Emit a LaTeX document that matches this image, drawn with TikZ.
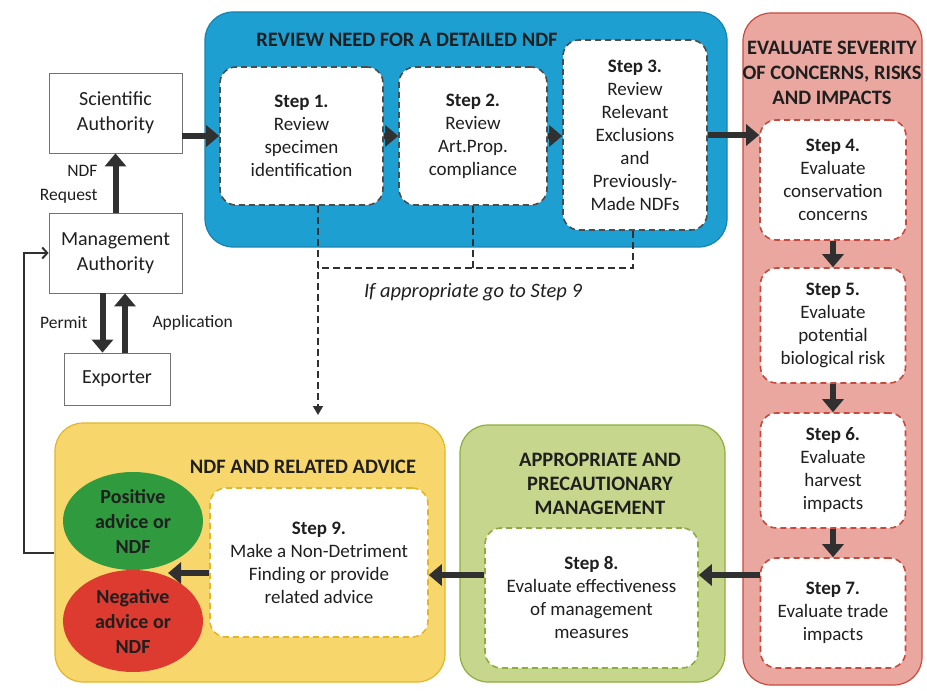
\documentclass[tikz,border=0pt]{standalone}
\usepackage{fontspec}
\setmainfont{Carlito}
\usetikzlibrary{arrows.meta,positioning,shapes.geometric}

\definecolor{reviewblue}{HTML}{1E9FD2}
\definecolor{reviewedge}{HTML}{1682B0}
\definecolor{riskfill}{HTML}{E9A7A0}
\definecolor{riskedge}{HTML}{C9493D}
\definecolor{mgmtfill}{HTML}{C6D68C}
\definecolor{mgmtedge}{HTML}{8CAE3C}
\definecolor{advfill}{HTML}{F7D76C}
\definecolor{advedge}{HTML}{E3B628}
\definecolor{posgreen}{HTML}{2F9B3E}
\definecolor{negred}{HTML}{DD3B2F}
\definecolor{arrowgray}{HTML}{303030}

\begin{document}
\begin{tikzpicture}[x=1pt, y=-1pt, font=\fontsize{19}{23}\selectfont, text=black!88,
		group/.style = {draw, line width=1.2pt, rounded corners=28pt, inner sep=0pt},
		title/.style = {font=\fontsize{20.5}{25}\selectfont\bfseries, align=center},
		stepbox/.style = {draw, dash pattern=on 6pt off 4pt, line width=1.6pt, fill=white, rounded corners=16pt, align=center, inner sep=2pt},
		authbox/.style = {draw=black!55, line width=0.8pt, fill=white, align=center, inner sep=0pt, font=\fontsize{20}{25}\selectfont},
		small/.style = {font=\fontsize{17.5}{24}\selectfont},
		advicebox/.style = {ellipse, inner sep=0pt, align=center, font=\fontsize{20}{25}\selectfont\bfseries, minimum width=140pt},
		fat/.style = {line width=6pt, draw=arrowgray, -{Triangle[length=13pt,width=21pt]}},
		skip/.style = {line width=1.6pt, draw=arrowgray, dash pattern=on 7pt off 4pt},
		feedback/.style = {line width=2pt, draw=arrowgray, -{Straight Barb[length=5pt,width=11pt]}}]
		
		\useasboundingbox (0,0) rectangle (927,695);
		
		% coloured groups
		\node[group, draw=reviewedge, fill=reviewblue, minimum width=522pt, minimum height=235pt] (review) at (466,129.5) {};
		\node[group, draw=riskedge, fill=riskfill, minimum width=179pt, minimum height=672pt] (risk) at (832.5,349) {};
		\node[group, draw=mgmtedge, fill=mgmtfill, minimum width=265pt, minimum height=257pt] (mgmt) at (592.5,553.5) {};
		\node[group, draw=advedge, fill=advfill, minimum width=390pt, minimum height=259pt] (advice) at (250,552.5) {};
		
		\node[title] (reviewtitle) at (407,40) {REVIEW NEED FOR A DETAILED NDF};
		\node[title] (risktitle) at (832,73) {EVALUATE SEVERITY\\OF CONCERNS, RISKS\\AND IMPACTS};
		\node[title, font=\fontsize{20.5}{24}\selectfont\bfseries] (mgmttitle) at (600,484) {APPROPRIATE AND\\PRECAUTIONARY\\MANAGEMENT};
		\node[title] (advicetitle) at (303,467) {NDF AND RELATED ADVICE};
		
		% authorities
		\node[authbox, minimum width=133pt, minimum height=80pt] (sa) at (115.5,113) {Scientific\\Authority};
		\node[authbox, minimum width=133pt, minimum height=80pt] (ma) at (115.5,253) {Management\\Authority};
		\node[authbox, minimum width=106pt, minimum height=52pt] (exporter) at (117,379) {Exporter};
		
		% steps
		\node[stepbox, draw=black!70, minimum width=163pt, minimum height=138pt] (step1) at (301.5,136) {\textbf{Step 1.}\\Review\\specimen\\identification};
		\node[stepbox, draw=black!70, minimum width=148pt, minimum height=138pt] (step2) at (473,136) {\textbf{Step 2.}\\Review\\Art.Prop.\\compliance};
		\node[stepbox, draw=black!70, minimum width=144pt, minimum height=190pt] (step3) at (635,135) {\textbf{Step 3.}\\Review\\Relevant\\Exclusions\\and\\Previously-\\Made NDFs};
		\node[stepbox, draw=riskedge, minimum width=146pt, minimum height=120pt] (step4) at (833,180) {\textbf{Step 4.}\\Evaluate\\conservation\\concerns};
		\node[stepbox, draw=riskedge, minimum width=145pt, minimum height=115pt] (step5) at (833,325.5) {\textbf{Step 5.}\\Evaluate\\potential\\biological risk};
		\node[stepbox, draw=riskedge, minimum width=145pt, minimum height=115pt] (step6) at (833,470.5) {\textbf{Step 6.}\\Evaluate\\harvest\\impacts};
		\node[stepbox, draw=riskedge, minimum width=145pt, minimum height=110pt] (step7) at (833,613) {\textbf{Step 7.}\\Evaluate trade\\impacts};
		\node[stepbox, draw=mgmtedge, minimum width=213pt, minimum height=140pt] (step8) at (591.5,598) {\textbf{Step 8.}\\Evaluate effectiveness\\of management\\measures};
		\node[stepbox, draw=advedge, minimum width=218pt, minimum height=149pt] (step9) at (319,562.5) {\textbf{Step 9.}\\Make a Non-Detriment\\Finding or provide\\related advice};
		
		% outcomes
		\node[advicebox, fill=posgreen, minimum height=98pt] (positive) at (133,521) {Positive\\advice or\\NDF};
		\node[advicebox, fill=negred, minimum height=102pt] (negative) at (133,621) {Negative\\advice or\\NDF};
		
		% labels
		\node[small, anchor=east, align=right] (ndfrequest) at (101,184) {NDF\\Request};
		\node[small, anchor=east] (permitlabel) at (91,323) {Permit};
		\node[small, anchor=west] (applylabel) at (149,323) {Application};
		\node[font=\fontsize{20.5}{24}\selectfont\itshape] (skiplabel) at (473,292) {If appropriate go to Step 9};
		
		% main flow
		\draw[fat] (ma.north) -- (sa.south);
		\coordinate (permit) at ([xshift=-13pt]ma.south);
		\draw[fat] (permit) -- (permit |- exporter.north);
		\coordinate (apply) at ([xshift=8pt]exporter.north);
		\draw[fat] (apply) -- (apply |- ma.south);
		\draw[fat] (sa.east |- step1.west) -- (step1.west);
		\draw[fat] (step1.east) -- (step2.west);
		\draw[fat] (step2.east) -- (step2.east -| step3.west);
		\draw[fat] (step3.east) -- (step3.east -| step4.west);
		\draw[fat] (step4.south) -- (step5.north);
		\draw[fat] (step5.south) -- (step6.north);
		\draw[fat] (step6.south) -- (step7.north);
		\coordinate (in8) at ([yshift=23pt]step8.east);
		\draw[fat] (in8 -| step7.west) -- (in8);
		\coordinate (out8) at (in8 -| step8.west);
		\draw[fat] (out8) -- (out8 -| step9.east);
		\coordinate (split) at (168,573);
		\draw[fat] (split -| step9.west) -- (split);
		
		% shortcut to step 9
		\coordinate (skipend) at (318,415);
		\coordinate (join) at (633,268);
		\draw[skip, -{Triangle[length=9pt,width=10pt]}] (skipend |- step1.south) -- (skipend);
		\draw[skip] (step3.south -| join) -- (join) -- (join -| skipend);
		\draw[skip] (step2.south) -- (step2.south |- join);
		
		% back to the management authority
		\coordinate (back) at (24,553);
		\draw[feedback] (advice.west |- back) -- (back) |- (ma.west);
	\end{tikzpicture}
\end{document}
